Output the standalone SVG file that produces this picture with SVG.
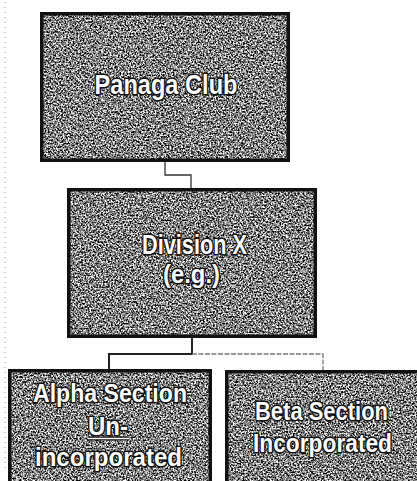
<svg xmlns="http://www.w3.org/2000/svg" width="417" height="481" viewBox="0 0 417 481">
<defs>
<filter id="tex" x="0" y="0" width="100%" height="100%" filterUnits="objectBoundingBox" color-interpolation-filters="sRGB">
<feTurbulence type="fractalNoise" baseFrequency="0.6" numOctaves="2" seed="7" result="n"/>
<feColorMatrix in="n" type="matrix" values="2.6 0 0 0 -0.8  2.6 0 0 0 -0.8  2.6 0 0 0 -0.8  0 0 0 0 1" result="g"/>
<feComposite in="g" in2="SourceGraphic" operator="in"/>
</filter>
</defs>
<style>
.bg{fill:#777;filter:url(#tex)}
.frame{fill:none;stroke:#111;stroke-width:3.5}
.lbl{font-family:"Liberation Sans",Arial,sans-serif;font-weight:bold;fill:#fff;stroke:#111;stroke-width:3;paint-order:stroke;stroke-linejoin:round;text-anchor:middle}
.big{font-size:28px}
.mid{font-size:26px}
.sm{font-size:26px}
.c1{fill:none;stroke:#333;stroke-width:1.3}
.c2{fill:none;stroke:#222;stroke-width:2}
.c3{fill:none;stroke:#777;stroke-width:1.3;stroke-dasharray:5 1.5}
.scan{fill:none;stroke:#999;stroke-width:1;stroke-dasharray:1 4}
</style>
<rect width="417" height="481" fill="#fff"/>
<path class="scan" d="M5,2 V470"/>
<g id="connectors">
<path class="c1" d="M165,162 V175 H191 V188"/>
<path class="c2" d="M192,338 V354 H109 V370"/>
<path class="c3" d="M192,354 H323 V370"/>
</g>
<g id="panaga-club">
<rect class="bg" x="40" y="12" width="250" height="150"/>
<rect class="frame" x="41.75" y="13.75" width="246.5" height="146.5"/>
<text class="lbl big" x="166" y="94" textLength="143" lengthAdjust="spacingAndGlyphs">Panaga Club</text>
</g>
<g id="division-x">
<rect class="bg" x="67" y="188" width="250" height="150"/>
<rect class="frame" x="68.75" y="189.75" width="246.5" height="146.5"/>
<text class="lbl big" x="194.5" y="254" textLength="105" lengthAdjust="spacingAndGlyphs">Division X</text>
<text class="lbl mid" x="191.5" y="283" textLength="57" lengthAdjust="spacingAndGlyphs">(e.g.)</text>
</g>
<g id="alpha-section">
<rect class="bg" x="8" y="369" width="204" height="115"/>
<rect class="frame" x="9.75" y="370.75" width="200.5" height="115"/>
<text class="lbl sm" x="110" y="402" textLength="154" lengthAdjust="spacingAndGlyphs">Alpha Section</text>
<text class="lbl sm" x="108" y="435" textLength="40" lengthAdjust="spacingAndGlyphs">Un-</text>
<path d="M88,438.5 H129" stroke="#111" stroke-width="4"/>
<path d="M88,438.5 H129" stroke="#fff" stroke-width="1.6"/>
<text class="lbl sm" x="108.5" y="466" textLength="147" lengthAdjust="spacingAndGlyphs">incorporated</text>
</g>
<g id="beta-section">
<rect class="bg" x="225" y="370" width="195" height="115"/>
<rect class="frame" x="226.75" y="371.75" width="195" height="115"/>
<text class="lbl sm" x="321.5" y="420" textLength="133" lengthAdjust="spacingAndGlyphs">Beta Section</text>
<text class="lbl sm" x="322.5" y="452" textLength="139" lengthAdjust="spacingAndGlyphs">Incorporated</text>
</g>
</svg>
